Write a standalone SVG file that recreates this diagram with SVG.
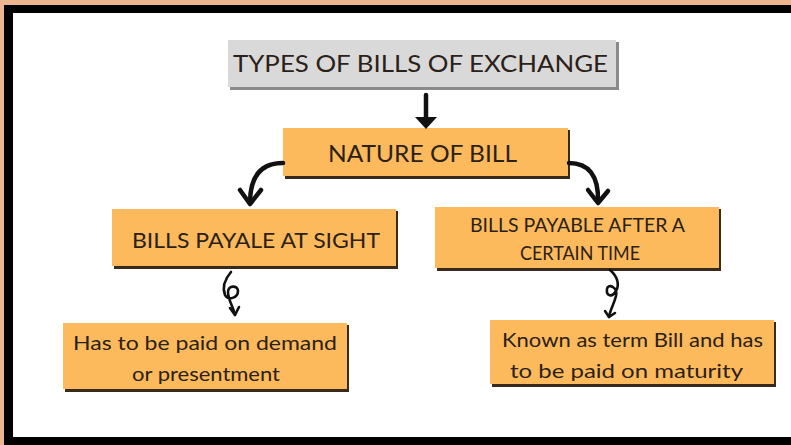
<svg xmlns="http://www.w3.org/2000/svg" width="791" height="445" viewBox="0 0 791 445">
  <defs>
    <style>
      .box { fill: #FCBA5C; }
      .shadow { fill: #3A2A1C; }
      .gray { fill: #D9D9D9; }
      .gshadow { fill: #8A8A8A; }
      .t { font-family: "Lato", "Liberation Sans", sans-serif; fill: #2B2118; text-anchor: middle; }
      .conn { fill: none; stroke: #111; stroke-width: 4.5; stroke-linecap: round; stroke-linejoin: round; }
      .curl { fill: none; stroke: #111; stroke-width: 2.6; stroke-linecap: round; stroke-linejoin: round; }
    </style>
  </defs>
  <rect x="0" y="0" width="791" height="445" fill="#ECB48F"/>
  <rect x="4" y="5" width="787" height="440" fill="#000"/>
  <rect x="13" y="13" width="778" height="424" fill="#FFFFFF"/>

  <g id="node-types">
    <rect class="gshadow" x="230" y="42" width="389" height="48"/>
    <rect class="gray" x="228" y="40" width="388" height="47"/>
    <text class="t" x="420.5" y="72" font-size="23" textLength="375" lengthAdjust="spacingAndGlyphs">TYPES OF BILLS OF EXCHANGE</text>
  </g>

  <g id="node-nature">
    <rect class="shadow" x="285" y="130" width="285" height="49"/>
    <rect class="box" x="283" y="128" width="285" height="48"/>
    <text class="t" x="422.5" y="162" font-size="24" textLength="189" lengthAdjust="spacingAndGlyphs">NATURE OF BILL</text>
  </g>

  <g id="node-sight">
    <rect class="shadow" x="114" y="211" width="284" height="58"/>
    <rect class="box" x="112" y="209" width="284" height="57"/>
    <text class="t" x="256" y="248" font-size="22" textLength="248" lengthAdjust="spacingAndGlyphs">BILLS PAYALE AT SIGHT</text>
  </g>

  <g id="node-after">
    <rect class="shadow" x="437" y="209" width="284" height="62"/>
    <rect class="box" x="435" y="207" width="284" height="61"/>
    <text class="t" x="577.5" y="232" font-size="19" textLength="215" lengthAdjust="spacingAndGlyphs">BILLS PAYABLE AFTER A</text>
    <text class="t" x="580" y="260" font-size="19" textLength="120" lengthAdjust="spacingAndGlyphs">CERTAIN TIME</text>
  </g>

  <g id="node-demand">
    <rect class="shadow" x="65" y="325" width="284" height="67"/>
    <rect class="box" x="63" y="323" width="284" height="66"/>
    <text class="t" x="205" y="350" font-size="20" textLength="264" lengthAdjust="spacingAndGlyphs">Has to be paid on demand</text>
    <text class="t" x="206" y="381" font-size="20" textLength="148" lengthAdjust="spacingAndGlyphs">or presentment</text>
  </g>

  <g id="node-term">
    <rect class="shadow" x="492" y="322" width="284" height="65"/>
    <rect class="box" x="490" y="320" width="284" height="64"/>
    <text class="t" x="632.5" y="347" font-size="20" textLength="261" lengthAdjust="spacingAndGlyphs">Known as term Bill and has</text>
    <text class="t" x="626.5" y="378" font-size="20" textLength="233" lengthAdjust="spacingAndGlyphs">to be paid on maturity</text>
  </g>

  <g id="connectors">
    <line class="conn" x1="426" y1="95" x2="426" y2="118"/>
    <polygon points="415,117 437,117 426,129" fill="#111"/>

    <path class="conn" d="M283,163 C265,163 250,172 250,203"/>
    <path class="conn" d="M240,190 L250,204 L261,190"/>

    <path class="conn" d="M569,163 C588,163 599,175 598,202"/>
    <path class="conn" d="M588,190 L598,203 L608,191"/>

    <path class="curl" d="M231,272 C225,279 222,287 225,295 C228,301 238,298 238,291 C238,285 228,285 228,292 C228,300 233,306 235,315"/>
    <path class="curl" d="M230,308 L235,315 L239,307"/>

    <path class="curl" d="M610,270 C617,276 620,284 616,291 C612,298 606,296 607,289 C608,283 618,287 616,296 C614,304 610,310 609,317"/>
    <path class="curl" d="M605,311 L609,317 L615,313"/>
  </g>
</svg>
